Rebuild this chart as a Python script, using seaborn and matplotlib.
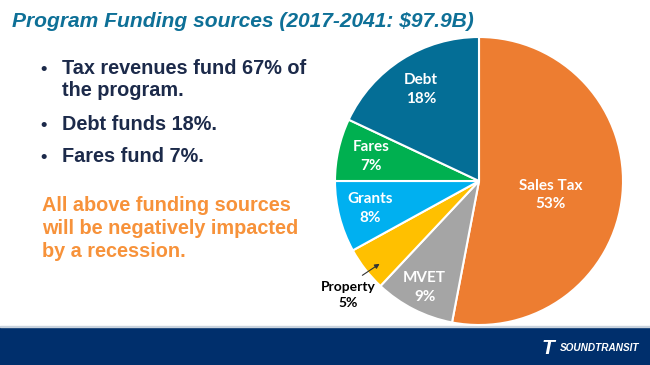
import matplotlib
matplotlib.use("Agg")
import matplotlib.pyplot as plt
import numpy as np
import seaborn as sns

# funding sources, clockwise from 12 o'clock
sources = ["Sales Tax", "MVET", "Property", "Grants", "Fares", "Debt"]
shares = [53, 9, 5, 8, 7, 18]
colors = ["#ED7D31", "#A5A5A5", "#FFC000", "#00B0F0", "#00B050", "#046E96"]

title = "Program Funding sources (2017-2041: $97.9B)"
bullets = [["Tax revenues fund 67% of", "the program."], ["Debt funds 18%."], ["Fares fund 7%."]]
note = ["All above funding sources", "will be negatively impacted", "by a recession."]

sns.set_theme(style="white")
plt.rcParams["font.family"] = ["Liberation Sans", "DejaVu Sans"]

W, H = 650, 365
fig = plt.figure(figsize=(6.5, 3.65), dpi=100)
fig.patch.set_facecolor("white")

def px(x, y):
    return x / W, 1 - y / H

# title
fig.text(*px(12, 27), title, fontsize=15.1, fontweight="bold", fontstyle="italic",
         color="#0E7097", va="baseline", ha="left")

# bullets, one baseline per line
navy = "#1C2A4A"
baselines = [[74, 96], [130], [162]]
for lines, ybs in zip(bullets, baselines):
    fig.text(*px(40, ybs[0]), "•", fontsize=13, fontweight="bold", color=navy, va="baseline")
    for line, yb in zip(lines, ybs):
        fig.text(*px(62, yb), line, fontsize=14.3, fontweight="bold", color=navy, va="baseline")

for line, yb in zip(note, [211, 234, 257]):
    fig.text(*px(42, yb), line, fontsize=14.3, fontweight="bold", color="#F7923A", va="baseline")

# pie
cx, cy, r = 479, 181, 144
ax = fig.add_axes([(cx - r) / W, (H - cy - r) / H, 2 * r / W, 2 * r / H])
wedges, _ = ax.pie(shares, colors=colors, startangle=90, counterclock=False,
                   wedgeprops=dict(edgecolor="white", linewidth=1.5))
ax.set_xlim(-1, 1)
ax.set_ylim(-1, 1)
ax.axis("off")

lab_font = dict(fontsize=11, fontweight="bold", family=["Lato", "DejaVu Sans"],
                linespacing=1.45, ha="center", va="center")
dist = {"Sales Tax": 0.5, "MVET": 0.83, "Grants": 0.78, "Fares": 0.77, "Debt": 0.75}
for w, name, val in zip(wedges, sources, shares):
    mid = np.deg2rad((w.theta1 + w.theta2) / 2)
    if name == "Property":
        # label sits outside the wedge with a small pointer
        ax.text(-0.91, -0.79, f"{name}\n{val}%", color="black", **{**lab_font, "fontsize": 10})
        ax.annotate("", xy=(-0.69, -0.575), xytext=(-0.81, -0.655),
                    arrowprops=dict(arrowstyle="-|>", color="#333333", lw=0.8,
                                    shrinkA=0, shrinkB=0, mutation_scale=7),
                    annotation_clip=False)
        continue
    d = dist[name]
    ax.text(d * np.cos(mid), d * np.sin(mid) - (0.05 if name == "Sales Tax" else 0),
            f"{name}\n{val}%", color="white", **lab_font)

# footer band
fax = fig.add_axes([0, 0, 1, 1], zorder=-1)
fax.set_xlim(0, W)
fax.set_ylim(H, 0)
fax.axis("off")
fax.add_patch(plt.Rectangle((0, 327), W, 38, color="#002F6C"))
fax.add_patch(plt.Rectangle((0, 325.5), W, 1.5, color="#C9D3DE"))
fig.text(*px(548, 349), "T", fontsize=15, fontweight="bold", fontstyle="italic",
         color="white", ha="center", va="center")
fig.text(*px(560, 348), "SOUNDTRANSIT", fontsize=7.2, fontweight="bold", fontstyle="italic",
         color="white", ha="left", va="center")

fig.savefig("out.png", dpi=100)
